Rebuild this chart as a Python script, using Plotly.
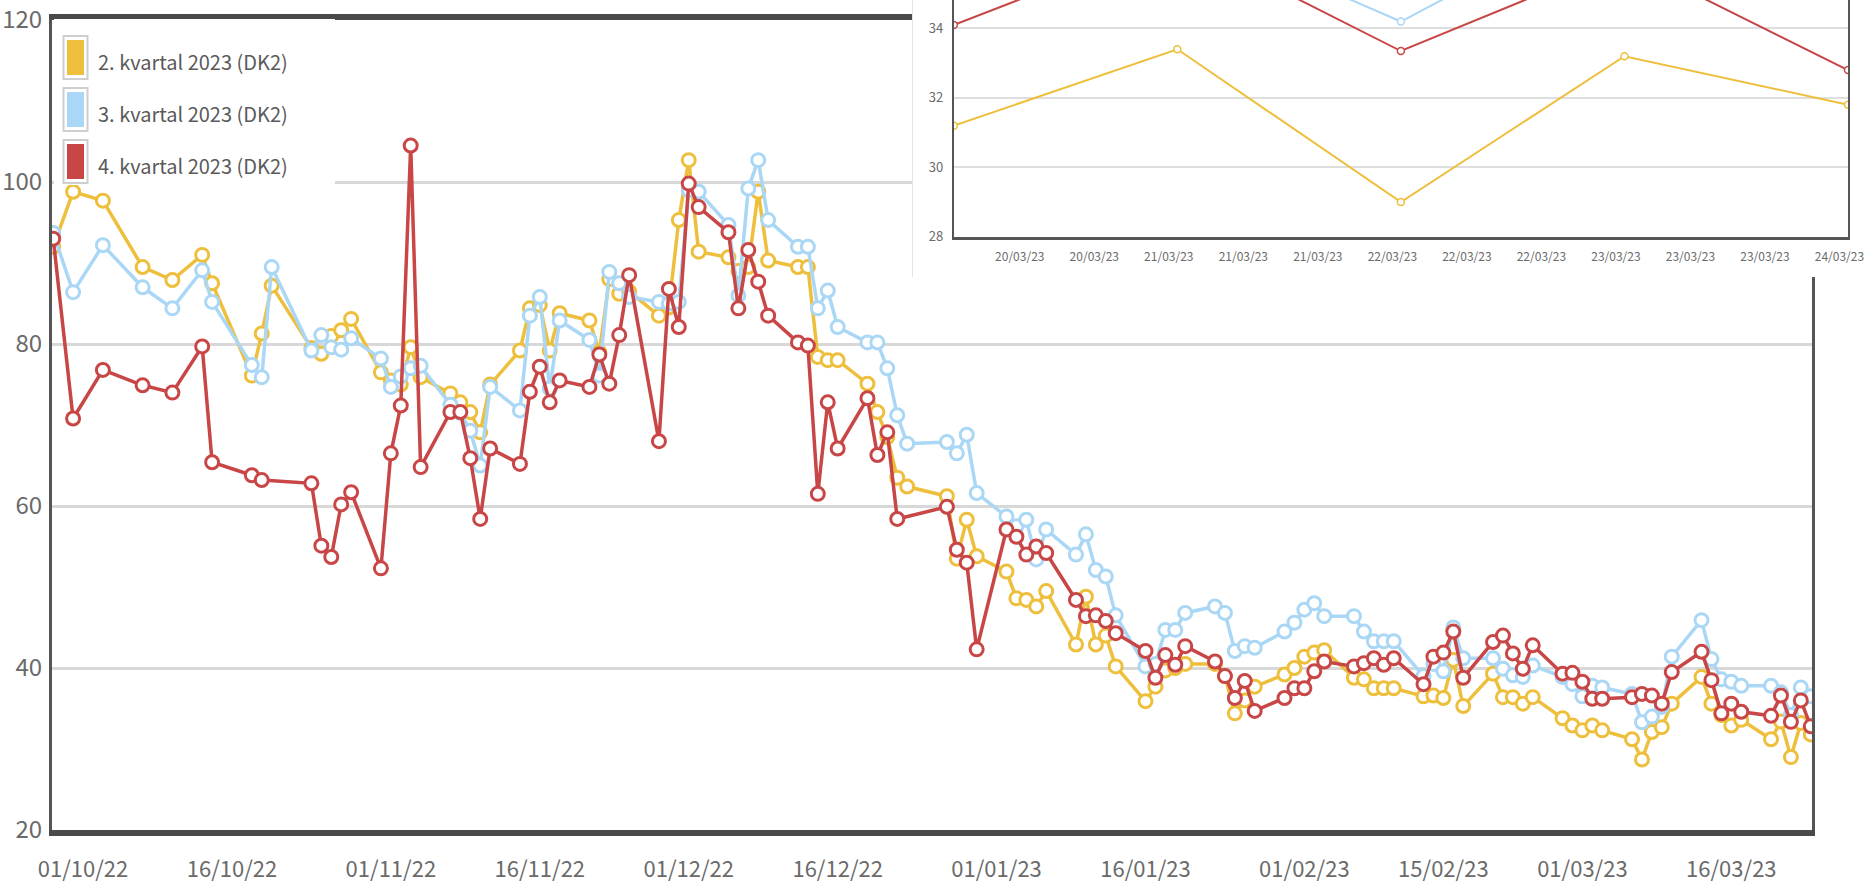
import plotly.graph_objects as go

# ---------------- data ----------------
dates = [
    "2022-09-28", "2022-09-30",
    "2022-10-03", "2022-10-07",
    "2022-10-10", "2022-10-13", "2022-10-14",
    "2022-10-18", "2022-10-19", "2022-10-20",
    "2022-10-24", "2022-10-25", "2022-10-26", "2022-10-27", "2022-10-28",
    "2022-10-31", "2022-11-01", "2022-11-02", "2022-11-03", "2022-11-04",
    "2022-11-07", "2022-11-08", "2022-11-09", "2022-11-10", "2022-11-11",
    "2022-11-14", "2022-11-15", "2022-11-16", "2022-11-17", "2022-11-18",
    "2022-11-21", "2022-11-22", "2022-11-23", "2022-11-24", "2022-11-25",
    "2022-11-28", "2022-11-29", "2022-11-30", "2022-12-01", "2022-12-02",
    "2022-12-05", "2022-12-06", "2022-12-07", "2022-12-08", "2022-12-09",
    "2022-12-12", "2022-12-13", "2022-12-14", "2022-12-15", "2022-12-16",
    "2022-12-19", "2022-12-20", "2022-12-21", "2022-12-22", "2022-12-23",
    "2022-12-27", "2022-12-28", "2022-12-29", "2022-12-30",
    "2023-01-02", "2023-01-03", "2023-01-04", "2023-01-05", "2023-01-06",
    "2023-01-09", "2023-01-10", "2023-01-11", "2023-01-12", "2023-01-13",
    "2023-01-16", "2023-01-17", "2023-01-18", "2023-01-19", "2023-01-20",
    "2023-01-23", "2023-01-24", "2023-01-25", "2023-01-26", "2023-01-27",
    "2023-01-30", "2023-01-31", "2023-02-01", "2023-02-02", "2023-02-03",
    "2023-02-06", "2023-02-07", "2023-02-08", "2023-02-09", "2023-02-10",
    "2023-02-13", "2023-02-14", "2023-02-15", "2023-02-16", "2023-02-17",
    "2023-02-20", "2023-02-21", "2023-02-22", "2023-02-23", "2023-02-24",
    "2023-02-27", "2023-02-28", "2023-03-01", "2023-03-02", "2023-03-03",
    "2023-03-06", "2023-03-07", "2023-03-08", "2023-03-09", "2023-03-10",
    "2023-03-13", "2023-03-14", "2023-03-15", "2023-03-16", "2023-03-17",
    "2023-03-20", "2023-03-21", "2023-03-22", "2023-03-23", "2023-03-24",
]

q2_values = [
    92.0, 98.8,
    97.7, 89.5,
    87.9, 91.0, 87.5,
    76.1, 81.3, 87.2,
    79.5, 78.8, 81.0, 81.7, 83.1,
    76.5, 75.5, 75.0, 79.6, 75.9,
    73.9, 72.8, 71.6, 69.1, 75.0,
    79.2, 84.4, 84.8, 79.2, 83.8,
    82.9, 79.0, 88.0, 86.2, 86.5,
    83.5, 84.5, 95.3, 102.7, 91.4,
    90.7, 89.0, 89.5, 98.8, 90.3,
    89.5, 89.5, 78.4, 78.0, 78.0,
    75.1, 71.6, 68.5, 63.5, 62.4,
    61.2, 53.5, 58.3, 53.8,
    51.9, 48.6, 48.4, 47.6, 49.5,
    42.9, 48.8, 42.9, 44.0, 40.2,
    35.9, 37.7, 39.7, 40.0, 40.5,
    40.5, 39.0, 34.4, 36.0, 37.7,
    39.2, 40.0, 41.4, 41.9, 42.2,
    38.8, 38.6, 37.5, 37.5, 37.5,
    36.5, 36.6, 36.3, 41.0, 35.3,
    39.3, 36.4, 36.4, 35.6, 36.4,
    33.8, 32.9, 32.3, 32.9, 32.3,
    31.2, 28.7, 32.1, 32.7, 35.6,
    38.9, 35.6, 34.2, 32.9, 33.6,
    31.2, 33.4, 29.0, 33.2, 31.8,
]

q3_values = [
    93.7, 86.4,
    92.2, 87.0,
    84.4, 89.1, 85.2,
    77.4, 75.9, 89.5,
    79.2, 81.1, 79.6, 79.3, 80.7,
    78.2, 74.7, 76.0, 77.0, 77.3,
    72.5, 71.5, 69.3, 65.0, 74.7,
    71.8, 83.5, 85.8, 74.5, 82.9,
    80.5, 76.1, 88.9, 87.5, 85.8,
    85.2, 85.0, 85.2, 99.0, 98.8,
    94.7, 86.0, 99.2, 102.7, 95.3,
    92.0, 92.0, 84.4, 86.6, 82.1,
    80.2, 80.2, 77.0, 71.2, 67.7,
    67.9, 66.5, 68.8, 61.6,
    58.7, 57.5, 58.3, 53.4, 57.1,
    54.0, 56.5, 52.1, 51.3, 46.5,
    40.2, 40.5, 44.7, 44.7, 46.8,
    47.6, 46.8, 42.1, 42.7, 42.5,
    44.5, 45.6, 47.2, 48.0, 46.4,
    46.4, 44.5, 43.3, 43.3, 43.3,
    39.0, 40.5, 39.6, 45.0, 41.2,
    41.2, 39.9, 39.1, 38.9, 40.3,
    38.9, 38.0, 36.5, 37.8, 37.6,
    36.8, 33.3, 34.0, 35.2, 41.4,
    45.9, 41.1, 38.6, 38.3, 37.8,
    37.8, 37.0, 34.2, 37.6, 36.5,
]

q4_values = [
    93.0, 70.8,
    76.8, 74.9,
    74.0, 79.7, 65.4,
    63.8, 63.2, None,
    62.8, 55.1, 53.7, 60.2, 61.7,
    52.3, 66.5, 72.4, 104.5, 64.8,
    71.6, 71.6, 65.9, 58.4, 67.1,
    65.2, 74.1, 77.2, 72.8, 75.5,
    74.7, 78.7, 75.1, 81.1, 88.5,
    68.0, 86.8, 82.1, 99.8, 96.9,
    93.8, 84.4, 91.6, 87.7, 83.5,
    80.2, 79.8, 61.5, 72.8, 67.1,
    73.3, 66.3, 69.1, 58.4, None,
    59.9, 54.6, 53.0, 42.3,
    57.1, 56.2, 54.0, 55.0, 54.2,
    48.4, 46.4, 46.5, 45.8, 44.3,
    42.1, 38.8, 41.6, 40.4, 42.7,
    40.8, 39.0, 36.3, 38.4, 34.7,
    36.3, 37.5, 37.5, 39.6, 40.8,
    40.2, 40.6, 41.2, 40.4, 41.2,
    38.0, 41.4, 41.9, 44.5, 38.8,
    43.2, 44.0, 41.8, 39.9, 42.8,
    39.3, 39.4, 38.3, 36.2, 36.2,
    36.4, 36.8, 36.6, 35.6, 39.5,
    42.0, 38.5, 34.4, 35.6, 34.6,
    34.1, 36.6, 33.35, 36.0, 32.8,
]

series_names = ["2. kvartal 2023 (DK2)", "3. kvartal 2023 (DK2)", "4. kvartal 2023 (DK2)"]
series_colors = ["#eebf3c", "#aad7f5", "#c84646"]

main_tickvals = ["2022-10-01", "2022-10-16", "2022-11-01", "2022-11-16", "2022-12-01",
                 "2022-12-16", "2023-01-01", "2023-01-16", "2023-02-01", "2023-02-15",
                 "2023-03-01", "2023-03-16"]
main_ticktext = ["01/10/22", "16/10/22", "01/11/22", "16/11/22", "01/12/22", "16/12/22",
                 "01/01/23", "16/01/23", "01/02/23", "15/02/23", "01/03/23", "16/03/23"]
main_yticks = [20, 40, 60, 80, 100, 120]

inset_tickvals = ["2023-03-20 07:05", "2023-03-20 15:05", "2023-03-20 23:05",
                  "2023-03-21 07:05", "2023-03-21 15:05", "2023-03-21 23:05",
                  "2023-03-22 07:05", "2023-03-22 15:05", "2023-03-22 23:05",
                  "2023-03-23 07:05", "2023-03-23 15:05", "2023-03-23 23:05"]
inset_ticktext = ["20/03/23", "20/03/23", "21/03/23", "21/03/23", "21/03/23", "22/03/23",
                  "22/03/23", "22/03/23", "23/03/23", "23/03/23", "23/03/23", "24/03/23"]
inset_yticks = [28, 30, 32, 34]

# ---------------- layout helpers ----------------
W, H = 1864, 888
FONT = "Noto Sans CJK SC, Liberation Sans, sans-serif"


def px(x):
    return x / W


def py(y):
    return 1 - y / H


fig = go.Figure()

all_values = [q2_values, q3_values, q4_values]

# main chart
for name, vals, col in zip(series_names, all_values, series_colors):
    fig.add_trace(go.Scatter(
        x=dates, y=vals, name=name, mode="lines+markers", connectgaps=True,
        line=dict(color=col, width=3.5),
        marker=dict(symbol="circle", size=13, color="white", line=dict(color=col, width=3)),
        xaxis="x", yaxis="y", showlegend=False,
    ))

# white backdrop subplot for the inset
fig.add_trace(go.Scatter(x=[0], y=[0], mode="markers", marker=dict(opacity=0),
                         xaxis="x2", yaxis="y2", showlegend=False, hoverinfo="skip"))

# inset (zoom on the last days)
for name, vals, col in zip(series_names, all_values, series_colors):
    fig.add_trace(go.Scatter(
        x=dates, y=vals, name=name, mode="lines+markers", connectgaps=True,
        line=dict(color=col, width=2),
        marker=dict(symbol="circle", size=7, color="white", line=dict(color=col, width=1.5)),
        xaxis="x3", yaxis="y3", showlegend=False,
    ))

tick_font_main_y = dict(family=FONT, size=24, color="#6a6a6a")
tick_font_main_x = dict(family=FONT, size=22, color="#6a6a6a")
tick_font_inset_x = dict(family=FONT, size=12, color="#6a6a6a")
tick_font_inset_y = dict(family=FONT, size=13, color="#6a6a6a")

fig.update_layout(
    width=W, height=H,
    margin=dict(l=0, r=0, t=0, b=0, autoexpand=False),
    paper_bgcolor="white", plot_bgcolor="white",
    showlegend=False,
    font=dict(family=FONT),
    xaxis=dict(
        domain=[px(52), px(1812)], anchor="y", type="date", automargin=False,
        range=["2022-09-27 21:00", "2023-03-24 03:00"],
        tickmode="array", tickvals=main_tickvals, ticktext=main_ticktext,
        showgrid=False, zeroline=False, ticks="",
        showline=True, linecolor="#4a4a4a", linewidth=6, mirror=True,
        tickfont=tick_font_main_x, ticklabelstandoff=15, ticklabeloverflow="allow",
    ),
    yaxis=dict(
        domain=[py(830), py(20)], anchor="x", range=[20, 120], automargin=False,
        tickmode="array", tickvals=main_yticks,
        showgrid=True, gridcolor="#d8d8d8", gridwidth=3, zeroline=False, ticks="",
        showline=True, linecolor="#555555", linewidth=3, mirror=True,
        tickfont=tick_font_main_y, ticklabelstandoff=2, ticklabeloverflow="allow",
    ),
    xaxis2=dict(domain=[px(913), 1], anchor="y2", range=[1, 2], visible=False, automargin=False),
    yaxis2=dict(
        domain=[py(277), 1], anchor="x2", range=[1, 2], automargin=False,
        showline=True, linecolor="#e4e4e4", linewidth=1,
        showgrid=False, zeroline=False, showticklabels=False, ticks="",
    ),
    xaxis3=dict(
        domain=[px(953.8), px(1848)], anchor="y3", type="date", automargin=False,
        range=["2023-03-20", "2023-03-24"],
        tickmode="array", tickvals=inset_tickvals, ticktext=inset_ticktext,
        showgrid=False, zeroline=False, ticks="",
        showline=True, linecolor="#555555", linewidth=3,
        tickfont=tick_font_inset_x, ticklabelstandoff=7, ticklabeloverflow="allow",
    ),
    yaxis3=dict(
        domain=[py(236.7), 1], anchor="x3", range=[28, 34.82], automargin=False,
        tickmode="array", tickvals=inset_yticks,
        showgrid=True, gridcolor="#dedede", gridwidth=2, zeroline=False, ticks="",
        showline=True, linecolor="#555555", linewidth=2, mirror=True,
        tickfont=tick_font_inset_y, ticklabelstandoff=6, ticklabeloverflow="allow",
    ),
)

# ---------------- legend (box, swatches, text) ----------------
shapes = [dict(type="rect", xref="paper", yref="paper", layer="above",
               x0=px(54), x1=px(335), y0=py(185), y1=py(19),
               fillcolor="white", line=dict(width=0))]
annotations = []
sw_tops = [36, 88, 140]
sw_h = 43
for top, name, col in zip(sw_tops, series_names, series_colors):
    shapes.append(dict(type="rect", xref="paper", yref="paper", layer="above",
                       x0=px(63.5), x1=px(87.5), y0=py(top + sw_h), y1=py(top),
                       fillcolor="white", line=dict(color="#cfcfcf", width=2)))
    shapes.append(dict(type="rect", xref="paper", yref="paper", layer="above",
                       x0=px(67), x1=px(84), y0=py(top + sw_h - 4), y1=py(top + 4),
                       fillcolor=col, line=dict(width=0)))
    annotations.append(dict(xref="paper", yref="paper", x=px(96), y=py(top + sw_h / 2 + 4),
                            xanchor="left", yanchor="middle", showarrow=False, text=name,
                            font=dict(family=FONT, size=20, color="#5a5a5a")))

fig.update_layout(shapes=shapes, annotations=annotations)

fig.write_html("out.html", config={"displayModeBar": False},
               post_script="document.body.style.margin='0';document.body.style.overflow='hidden';")
